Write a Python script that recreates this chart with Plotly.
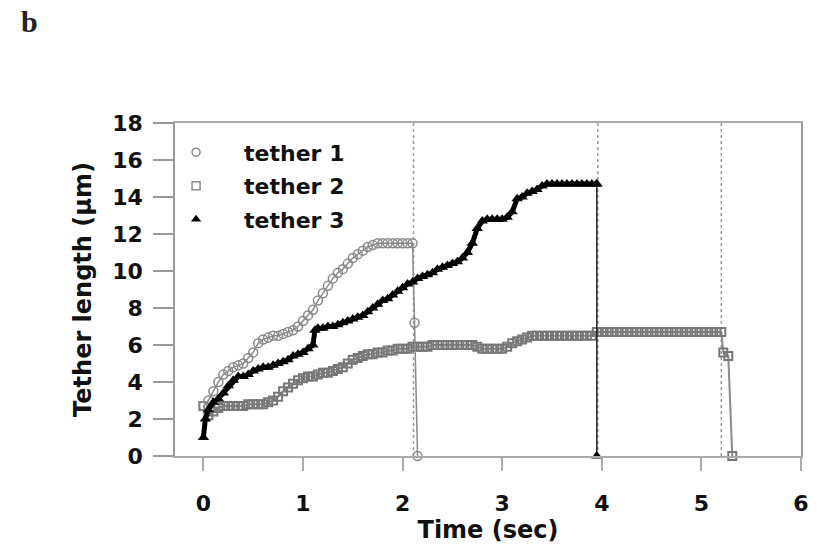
import plotly.graph_objects as go

# tether 1 (open circles)
t1_time = [0.00, 0.05, 0.10, 0.15, 0.20, 0.25, 0.30, 0.35, 0.40, 0.45, 0.50, 0.55,
           0.60, 0.65, 0.70, 0.75, 0.80, 0.85, 0.90, 0.95, 1.00, 1.05, 1.10, 1.15,
           1.20, 1.25, 1.30, 1.35, 1.40, 1.45, 1.50, 1.55, 1.60, 1.65, 1.70, 1.75,
           1.80, 1.85, 1.90, 1.95, 2.00, 2.05, 2.10, 2.12, 2.15]
t1_len = [2.7, 3.0, 3.5, 4.0, 4.4, 4.6, 4.8, 4.9, 5.0, 5.3, 5.6, 6.1,
          6.3, 6.4, 6.5, 6.5, 6.6, 6.7, 6.8, 7.0, 7.3, 7.6, 7.9, 8.4,
          8.8, 9.2, 9.6, 9.9, 10.1, 10.4, 10.7, 10.9, 11.1, 11.3, 11.4, 11.5,
          11.5, 11.5, 11.5, 11.5, 11.5, 11.5, 11.5, 7.2, 0.0]

# tether 2 (open squares)
t2_time = [0.00, 0.05, 0.10, 0.15, 0.20, 0.25, 0.30, 0.35, 0.40, 0.45, 0.50, 0.55,
           0.60, 0.65, 0.70, 0.75, 0.80, 0.85, 0.90, 0.95, 1.00, 1.05, 1.10, 1.15,
           1.20, 1.25, 1.30, 1.35, 1.40, 1.45, 1.50, 1.55, 1.60, 1.65, 1.70, 1.75,
           1.80, 1.85, 1.90, 1.95, 2.00, 2.05, 2.10, 2.15, 2.20, 2.25, 2.30, 2.35,
           2.40, 2.45, 2.50, 2.55, 2.60, 2.65, 2.70, 2.75, 2.80, 2.85, 2.90, 2.95,
           3.00, 3.05, 3.10, 3.15, 3.20, 3.25, 3.30, 3.35, 3.40, 3.45, 3.50, 3.55,
           3.60, 3.65, 3.70, 3.75, 3.80, 3.85, 3.90, 3.95, 4.00, 4.05, 4.10, 4.15,
           4.20, 4.25, 4.30, 4.35, 4.40, 4.45, 4.50, 4.55, 4.60, 4.65, 4.70, 4.75,
           4.80, 4.85, 4.90, 4.95, 5.00, 5.05, 5.10, 5.15, 5.20, 5.22, 5.27, 5.31]
t2_len = [2.7, 2.2, 2.4, 2.6, 2.7, 2.7, 2.7, 2.7, 2.7, 2.8, 2.8, 2.8,
          2.8, 2.9, 3.0, 3.2, 3.5, 3.7, 3.9, 4.1, 4.2, 4.3, 4.3, 4.4,
          4.5, 4.5, 4.6, 4.7, 4.8, 5.0, 5.2, 5.3, 5.4, 5.5, 5.5, 5.6,
          5.6, 5.7, 5.7, 5.8, 5.8, 5.8, 5.9, 5.9, 5.9, 5.9, 6.0, 6.0,
          6.0, 6.0, 6.0, 6.0, 6.0, 6.0, 6.0, 5.9, 5.8, 5.8, 5.8, 5.8,
          5.8, 5.9, 6.1, 6.2, 6.3, 6.4, 6.5, 6.5, 6.5, 6.5, 6.5, 6.5,
          6.5, 6.5, 6.5, 6.5, 6.5, 6.5, 6.5, 6.7, 6.7, 6.7, 6.7, 6.7,
          6.7, 6.7, 6.7, 6.7, 6.7, 6.7, 6.7, 6.7, 6.7, 6.7, 6.7, 6.7,
          6.7, 6.7, 6.7, 6.7, 6.7, 6.7, 6.7, 6.7, 6.7, 5.6, 5.4, 0.0]

# tether 3 (filled triangles)
t3_time = [0.00, 0.02, 0.05, 0.10, 0.15, 0.20, 0.25, 0.30, 0.35, 0.40, 0.45, 0.50,
           0.55, 0.60, 0.65, 0.70, 0.75, 0.80, 0.85, 0.90, 0.95, 1.00, 1.05, 1.10,
           1.12, 1.15, 1.20, 1.25, 1.30, 1.35, 1.40, 1.45, 1.50, 1.55, 1.60, 1.65,
           1.70, 1.75, 1.80, 1.85, 1.90, 1.95, 2.00, 2.05, 2.10, 2.15, 2.20, 2.25,
           2.30, 2.35, 2.40, 2.45, 2.50, 2.55, 2.60, 2.65, 2.70, 2.75, 2.80, 2.85,
           2.90, 2.95, 3.00, 3.05, 3.10, 3.15, 3.20, 3.25, 3.30, 3.35, 3.40, 3.45,
           3.50, 3.55, 3.60, 3.65, 3.70, 3.75, 3.80, 3.85, 3.90, 3.95, 3.95]
t3_len = [1.0, 2.0, 2.5, 2.9, 3.1, 3.4, 3.8, 4.1, 4.3, 4.3, 4.4, 4.6,
          4.7, 4.8, 4.8, 4.9, 5.0, 5.1, 5.2, 5.4, 5.5, 5.6, 5.8, 6.0,
          6.8, 6.9, 6.9, 7.0, 7.0, 7.1, 7.2, 7.3, 7.4, 7.5, 7.6, 7.8,
          8.0, 8.2, 8.4, 8.5, 8.7, 8.9, 9.1, 9.3, 9.4, 9.6, 9.7, 9.8,
          9.9, 10.1, 10.2, 10.3, 10.4, 10.5, 10.7, 11.0, 11.5, 12.3, 12.7, 12.8,
          12.8, 12.8, 12.8, 12.9, 13.2, 13.9, 14.0, 14.2, 14.3, 14.4, 14.6, 14.7,
          14.7, 14.7, 14.7, 14.7, 14.7, 14.7, 14.7, 14.7, 14.7, 14.7, 0.0]

rupture_times = [2.11, 3.96, 5.2]
x_ticks = [0, 1, 2, 3, 4, 5, 6]
y_ticks = [0, 2, 4, 6, 8, 10, 12, 14, 16, 18]

FONT = "DejaVu Sans, Arial, sans-serif"
GRAY = "#8a8a8a"

fig = go.Figure()

for xv in rupture_times:
    fig.add_shape(type="line", x0=xv, x1=xv, y0=0, y1=18, xref="x", yref="y",
                  line=dict(color="#9a9a9a", width=1.5, dash="dot"), layer="below")

fig.add_trace(go.Scatter(x=t2_time, y=t2_len, mode="lines+markers", showlegend=False,
                         line=dict(color=GRAY, width=2),
                         marker=dict(symbol="square-open", size=8, color="#777777",
                                     line=dict(width=2)), cliponaxis=False))
fig.add_trace(go.Scatter(x=t1_time, y=t1_len, mode="lines+markers", showlegend=False,
                         line=dict(color=GRAY, width=1.5),
                         marker=dict(symbol="circle-open", size=9, color="#8a8a8a",
                                     line=dict(width=1.5)), cliponaxis=False))
# rupture drop of tether 3 (thin line)
fig.add_trace(go.Scatter(x=t3_time[-2:], y=t3_len[-2:], mode="lines+markers",
                         showlegend=False, line=dict(color="#222", width=1.5),
                         marker=dict(symbol="triangle-up", size=10, color="black"),
                         cliponaxis=False))
fig.add_trace(go.Scatter(x=t3_time[:-1], y=t3_len[:-1], mode="lines+markers",
                         showlegend=False, line=dict(color="black", width=5),
                         marker=dict(symbol="triangle-up", size=10, color="black"),
                         cliponaxis=False))

# legend entries (symbols only)
fig.add_trace(go.Scatter(x=[None], y=[None], mode="markers", name="tether 1",
                         legendgroup="a",
                         marker=dict(symbol="circle-open", size=8, color="#8a8a8a",
                                     line=dict(width=1.5))))
fig.add_trace(go.Scatter(x=[None], y=[None], mode="markers", name="tether 2",
                         legendgroup="b",
                         marker=dict(symbol="square-open", size=8, color="#8a8a8a",
                                     line=dict(width=1.5))))
fig.add_trace(go.Scatter(x=[None], y=[None], mode="markers", name="tether 3",
                         legendgroup="c",
                         marker=dict(symbol="triangle-up", size=9, color="black")))

fig.add_annotation(text="b", x=-0.25, y=1.36, xref="paper", yref="paper",
                   showarrow=False, xanchor="left", yanchor="top",
                   font=dict(family="Liberation Serif, Times New Roman, serif",
                             size=30, color="#222", weight="bold"))

fig.update_layout(
    width=821, height=551,
    margin=dict(l=175, r=12, t=123, b=89),
    paper_bgcolor="white", plot_bgcolor="white",
    font=dict(family=FONT, size=22, color="#111", weight="bold"),
    legend=dict(x=-0.043, y=0.975, xanchor="left", yanchor="top",
                bgcolor="rgba(0,0,0,0)", itemwidth=86, tracegroupgap=2,
                font=dict(family=FONT, size=22, color="#111", weight="bold")),
    xaxis=dict(range=[-0.285, 6.0], tickvals=x_ticks, ticks="outside", ticklen=13,
               tickwidth=1.5, tickcolor="#aaa", showline=True, linecolor="#aaa",
               linewidth=1.5, mirror=True, showgrid=False, zeroline=False,
               ticklabelstandoff=14,
               title=dict(text="Time (sec)", standoff=6,
                          font=dict(family=FONT, size=24, weight="bold"))),
    yaxis=dict(range=[0, 18], tickvals=y_ticks, ticks="outside", ticklen=20,
               tickwidth=1.5, tickcolor="#999", showline=True, linecolor="#999",
               linewidth=1.5, mirror=True, showgrid=False, zeroline=False,
               ticklabelstandoff=6,
               title=dict(text="Tether length (\u03bcm)", standoff=14,
                          font=dict(family=FONT, size=24, weight="bold"))),
)

# drop the default page margin so the figure sits at the window origin
fig.write_html("out.html", config={"displayModeBar": False},
               post_script="document.body.style.margin='0';")
